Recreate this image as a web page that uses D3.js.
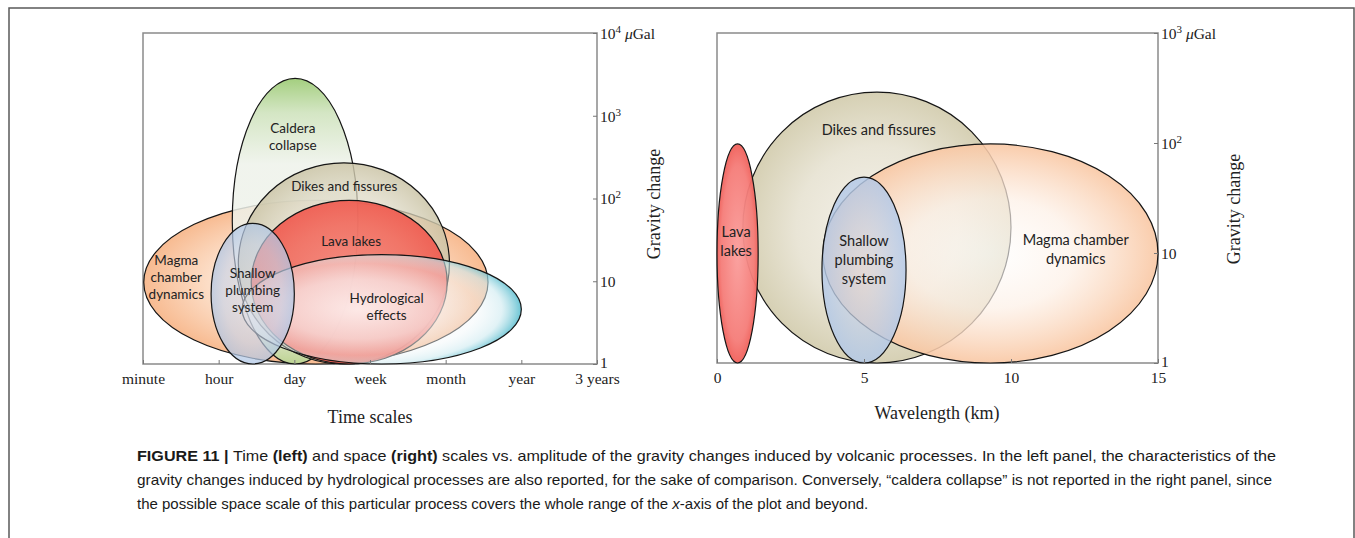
<!DOCTYPE html>
<html>
<head>
<meta charset="utf-8">
<script src="https://cdn.jsdelivr.net/npm/d3@7"></script>
<style>
  html, body { margin: 0; padding: 0; background: #fff; }
  svg { display: block; }
</style>
</head>
<body>
<svg id="fig" width="1355" height="538"></svg>
<script>
// ---------- Left panel: time scales ----------
const timeTicks = ["minute", "hour", "day", "week", "month", "year", "3 years"];
const leftGravityTicks = [1, 10, 100, 1000, 10000];

// Each process spans [start, end] in time-tick units and [min, max] in μGal
const timeProcesses = ["Magma chamber dynamics", "Caldera collapse", "Dikes and fissures",
                       "Lava lakes", "Hydrological effects", "Shallow plumbing system"];
const timeStart   = [0.01, 1.18, 1.26, 1.43, 1.31, 0.90];
const timeEnd     = [4.56, 2.84, 4.05, 4.02, 5.00, 2.00];
const timeGravMin = [1, 1, 1, 1, 1, 1];
const timeGravMax = [95, 2830, 270, 95, 21, 50];
const timeLabelLines = [["Magma", "chamber", "dynamics"], ["Caldera", "collapse"], ["Dikes and fissures"],
                        ["Lava lakes"], ["Hydrological", "effects"], ["Shallow", "plumbing", "system"]];
const timeLabelAt   = [0.44, 1.98, 2.66, 2.75, 3.22, 1.45];
const timeLabelGrav = [11.1, 560, 141, 30.6, 4.9, 7.8];

// ---------- Right panel: space scales ----------
const wavelengthTicks = [0, 5, 10, 15];
const rightGravityTicks = [1, 10, 100, 1000];

const spaceProcesses = ["Dikes and fissures", "Magma chamber dynamics", "Shallow plumbing system", "Lava lakes"];
const spaceStart   = [0.88, 3.60, 3.57, 0.00];
const spaceEnd     = [10.0, 15.0, 6.43, 1.40];
const spaceGravMin = [1, 1, 1, 1];
const spaceGravMax = [290, 98, 49, 98];
const spaceLabelLines = [["Dikes and fissures"], ["Magma chamber", "dynamics"],
                         ["Shallow", "plumbing", "system"], ["Lava", "lakes"]];
const spaceLabelAt   = [5.5, 12.2, 5.0, 0.65];
const spaceLabelGrav = [131, 10.8, 8.6, 12.7];

// ---------- Fill styles ----------
const leftStyles = {
  "Magma chamber dynamics": { kind: "radial", stops: [[0, "#fdf1e7", 0.9], [0.6, "#fcdcc4", 0.9], [1, "#f7b78b", 0.95]] },
  "Caldera collapse": { kind: "linear", stops: [[0, "#9fcc78", 0.95], [0.12, "#cfe3bd", 0.9], [0.3, "#eef2ea", 0.85], [0.85, "#eef1ea", 0.85], [1, "#b6d693", 0.9]] },
  "Dikes and fissures": { kind: "radial", stops: [[0, "#ece9de", 0.72], [0.7, "#dcd7c2", 0.72], [1, "#cbc4a6", 0.85]] },
  "Lava lakes": { kind: "radial", stops: [[0, "#f5857a", 0.9], [0.7, "#f26a5d", 0.9], [1, "#f05a4f", 0.92]] },
  "Hydrological effects": { kind: "radial", cx: 0.42, r: 0.6, stops: [[0, "#ffffff", 0.82], [0.45, "#f9f6f7", 0.68], [0.7, "#f2f7f9", 0.42], [0.85, "#cdeaf0", 0.6], [1, "#38b0c5", 0.97]] },
  "Shallow plumbing system": { kind: "radial", stops: [[0, "#d6d8e4", 0.55], [0.7, "#c6d2e8", 0.65], [1, "#b0c7e6", 0.75]] }
};
const rightStyles = {
  "Dikes and fissures": { kind: "radial", stops: [[0, "#f5f2eb", 1], [0.6, "#e9e5d6", 1], [1, "#d6d0b4", 1]] },
  "Magma chamber dynamics": { kind: "radial", stops: [[0, "#ffffff", 0.6], [0.5, "#fdf0e6", 0.7], [1, "#f9c7a3", 0.9]] },
  "Shallow plumbing system": { kind: "radial", stops: [[0, "#d5d7df", 0.6], [1, "#b3c9e8", 0.85]] },
  "Lava lakes": { kind: "radial", stops: [[0, "#fa9d9b", 0.95], [0.8, "#f57c78", 0.95], [1, "#f0605a", 0.95]] }
};

const SERIF = "'Liberation Serif', 'Times New Roman', serif";
const SANS = "Lato, 'Open Sans', sans-serif";

const svg = d3.select("#fig");
const defs = svg.append("defs");

svg.append("rect").attr("width", 1355).attr("height", 538).attr("fill", "#fff");

// outer figure frame
svg.append("path")
  .attr("d", "M9,545 V8 H1354 V545")
  .attr("fill", "none").attr("stroke", "#5a5a5a").attr("stroke-width", 1.5);

function addGradient(id, spec) {
  let grad;
  if (spec.kind === "linear") {
    grad = defs.append("linearGradient").attr("id", id)
      .attr("x1", 0).attr("y1", 0).attr("x2", 0).attr("y2", 1);
  } else {
    grad = defs.append("radialGradient").attr("id", id)
      .attr("cx", spec.cx ?? 0.5).attr("cy", spec.cy ?? 0.5).attr("r", spec.r ?? 0.5);
  }
  spec.stops.forEach(([o, c, a]) => grad.append("stop")
    .attr("offset", o).attr("stop-color", c).attr("stop-opacity", a));
}

function gravityLabel(sel, v, withUnit) {
  const e = Math.round(Math.log10(v));
  if (e === 0) { sel.text("1"); return; }
  if (e === 1) { sel.text("10"); return; }
  sel.append("tspan").text("10");
  sel.append("tspan").attr("dy", -6).attr("font-size", 11).text(e);
  if (withUnit) {
    sel.append("tspan").attr("dy", 6).attr("font-style", "italic").text(" μ");
    sel.append("tspan").text("Gal");
  }
}

function drawPanel(o) {
  const g = svg.append("g");
  const [xa, xb] = o.x.range();
  const [yb, ya] = o.y.range();

  // plot frame
  g.append("rect").attr("x", xa).attr("y", ya).attr("width", xb - xa).attr("height", yb - ya)
    .attr("fill", "#fff").attr("stroke", "#8a8a8a").attr("stroke-width", 1.5);

  // process ellipses, built from their extents
  const eg = g.append("g");
  o.names.forEach((n, i) => {
    const id = o.prefix + i;
    addGradient(id, o.styles[n]);
    const x0 = o.x(o.start[i]), x1 = o.x(o.end[i]);
    const y0 = o.y(o.gmax[i]), y1 = o.y(o.gmin[i]);
    eg.append("ellipse")
      .attr("cx", (x0 + x1) / 2).attr("cy", (y0 + y1) / 2)
      .attr("rx", (x1 - x0) / 2).attr("ry", (y1 - y0) / 2)
      .attr("fill", `url(#${id})`)
      .attr("stroke", "#151515").attr("stroke-width", 1.2);
  });

  // process labels
  o.names.forEach((n, i) => {
    const lines = o.lines[i];
    const t = g.append("text")
      .attr("x", o.x(o.lx[i])).attr("y", o.y(o.ly[i]))
      .attr("text-anchor", "middle")
      .attr("font-family", SANS).attr("font-size", o.font).attr("fill", "#222");
    lines.forEach((ln, k) => {
      t.append("tspan").attr("x", o.x(o.lx[i]))
        .attr("dy", k === 0 ? (-(lines.length - 1) / 2 * o.lineH + o.font * 0.35) : o.lineH)
        .text(ln);
    });
  });

  // right-hand gravity axis
  const ya_ = g.append("g").attr("transform", `translate(${xb},0)`)
    .call(d3.axisRight(o.y).tickValues(o.yTicks).tickSizeInner(-4).tickSizeOuter(0).tickFormat(""));
  ya_.select(".domain").remove();
  ya_.selectAll(".tick line").attr("stroke", "#777");
  ya_.selectAll(".tick").each(function (d, i) {
    const t = d3.select(this).append("text")
      .attr("x", 3).attr("y", i === 0 ? -2 : 0).attr("dy", "0.35em").attr("fill", "#222")
      .attr("font-family", SERIF).attr("font-size", 15.5)
      .attr("text-anchor", "start");
    gravityLabel(t, d, i === o.yTicks.length - 1);
  });

  // bottom axis
  const xa_ = g.append("g").attr("transform", `translate(0,${yb})`)
    .call(d3.axisBottom(o.x).tickValues(o.xTicks).tickSizeInner(-4).tickSizeOuter(0)
      .tickPadding(9).tickFormat(o.xFormat));
  xa_.select(".domain").remove();
  xa_.selectAll(".tick line").attr("stroke", "#777");
  xa_.selectAll(".tick text").attr("font-family", SERIF).attr("font-size", 15.5).attr("fill", "#222");

  // axis titles
  g.append("text").attr("x", o.xTitleAt[0]).attr("y", o.xTitleAt[1])
    .attr("text-anchor", "middle").attr("font-family", SERIF).attr("font-size", 18).attr("fill", "#222")
    .text(o.xTitle);
  g.append("text")
    .attr("transform", `translate(${o.yTitleAt[0]},${o.yTitleAt[1]}) rotate(-90)`)
    .attr("text-anchor", "middle").attr("dy", "0.35em")
    .attr("font-family", SERIF).attr("font-size", 18).attr("fill", "#222")
    .text("Gravity change");
}

// Left panel scales
const xTime = d3.scaleLinear().domain([0, timeTicks.length - 1]).range([143, 597]);
const yTime = d3.scaleLog().domain([1, 10000]).range([364, 33]);

drawPanel({
  x: xTime, y: yTime, prefix: "tp",
  names: timeProcesses, start: timeStart, end: timeEnd, gmin: timeGravMin, gmax: timeGravMax,
  lines: timeLabelLines, lx: timeLabelAt, ly: timeLabelGrav, styles: leftStyles,
  font: 13.5, lineH: 16.8,
  yTicks: leftGravityTicks,
  xTicks: d3.range(timeTicks.length), xFormat: i => timeTicks[i],
  xTitle: "Time scales", xTitleAt: [370, 423], yTitleAt: [654, 204]
});

// Right panel scales
const xSpace = d3.scaleLinear().domain([0, 15]).range([717, 1158]);
const ySpace = d3.scaleLog().domain([1, 1000]).range([363, 33]);

drawPanel({
  x: xSpace, y: ySpace, prefix: "sp",
  names: spaceProcesses, start: spaceStart, end: spaceEnd, gmin: spaceGravMin, gmax: spaceGravMax,
  lines: spaceLabelLines, lx: spaceLabelAt, ly: spaceLabelGrav, styles: rightStyles,
  font: 14.5, lineH: 19,
  yTicks: rightGravityTicks,
  xTicks: wavelengthTicks, xFormat: d => d,
  xTitle: "Wavelength (km)", xTitleAt: [937, 419], yTitleAt: [1234, 209]
});

// ---------- Caption ----------
const captionLines = [
  { width: 1139, parts: [["FIGURE 11 | ", "bold"], ["Time ", "normal"], ["(left)", "bold"], [" and space ", "normal"], ["(right)", "bold"],
    [" scales vs. amplitude of the gravity changes induced by volcanic processes. In the left panel, the characteristics of the", "normal"]] },
  { width: 1135, parts: [["gravity changes induced by hydrological processes are also reported, for the sake of comparison. Conversely, \u201ccaldera collapse\u201d is not reported in the right panel, since", "normal"]] },
  { width: null, parts: [["the possible space scale of this particular process covers the whole range of the ", "normal"], ["x", "italic"], ["-axis of the plot and beyond.", "normal"]] }
];
const cap = svg.append("g").attr("font-family", "'Liberation Sans', Arial, sans-serif")
  .attr("font-size", 15).attr("fill", "#1a1a1a");
captionLines.forEach((ln, i) => {
  const t = cap.append("text").attr("x", 137).attr("y", 461 + i * 24);
  if (ln.width) t.attr("textLength", ln.width).attr("lengthAdjust", "spacingAndGlyphs");
  ln.parts.forEach(([s, st]) => {
    const ts = t.append("tspan").text(s);
    if (st === "bold") ts.attr("font-weight", "bold");
    if (st === "italic") ts.attr("font-style", "italic");
  });
});
</script>
</body>
</html>
